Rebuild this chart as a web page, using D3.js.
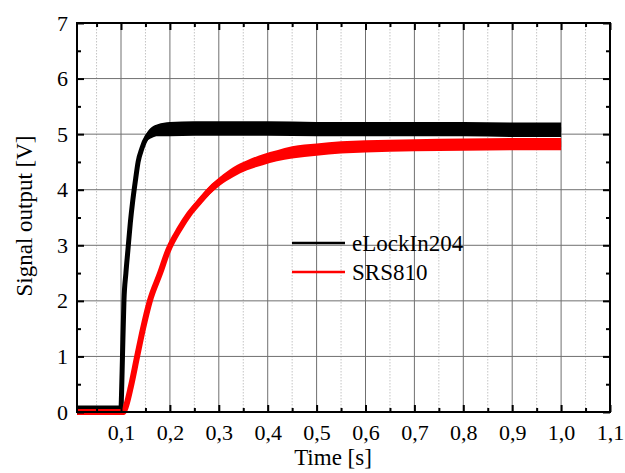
<!DOCTYPE html>
<html>
<head>
<meta charset="utf-8">
<script src="https://cdn.jsdelivr.net/npm/d3@7"></script>
<style>
  body { margin: 0; background: #fff; }
  svg text { font-family: "Liberation Serif", "Times New Roman", serif !important; fill: #000; }
</style>
</head>
<body>
<div id="chart-area"></div>
<script>
// values
let xTicks = [0.1, 0.2, 0.3, 0.4, 0.5, 0.6, 0.7, 0.8, 0.9, 1.0, 1.1];
let xMinor = [0.05, 0.15, 0.25, 0.35, 0.45, 0.55, 0.65, 0.75, 0.85, 0.95, 1.05];
let yTicks = [0, 1, 2, 3, 4, 5, 6, 7];
let yMinor = [0.5, 1.5, 2.5, 3.5, 4.5, 5.5, 6.5];

let seriesNames = ["eLockIn204", "SRS810"];

// eLockIn204 (black)
let timeBlack  = [0.01, 0.1, 0.101, 0.103, 0.106, 0.11, 0.114, 0.119, 0.124, 0.13, 0.135, 0.143, 0.153, 0.163, 0.175, 0.2, 0.25, 0.3, 0.4, 0.5, 0.6, 0.7, 0.8, 0.9, 1.0];
let valueBlack = [0.07, 0.07, 0.3, 1.0, 2.0, 2.5, 2.9, 3.4, 3.8, 4.2, 4.5, 4.75, 4.95, 5.03, 5.07, 5.09, 5.1, 5.1, 5.1, 5.09, 5.09, 5.09, 5.09, 5.08, 5.08];
let noiseBlack = [0.04, 0.04, 0.03, 0.03, 0.03, 0.03, 0.03, 0.04, 0.04, 0.05, 0.06, 0.07, 0.08, 0.1, 0.11, 0.13, 0.13, 0.13, 0.13, 0.13, 0.13, 0.13, 0.13, 0.13, 0.13];

// SRS810 (red)
let timeRed  = [0.01, 0.105, 0.11, 0.12, 0.133, 0.145, 0.159, 0.18, 0.196, 0.22, 0.24, 0.262, 0.28, 0.302, 0.33, 0.358, 0.39, 0.419, 0.45, 0.5, 0.55, 0.6, 0.7, 0.8, 0.9, 1.0];
let valueRed = [0.0, 0.0, 0.1, 0.45, 1.0, 1.5, 2.0, 2.5, 2.9, 3.3, 3.57, 3.8, 3.98, 4.15, 4.32, 4.44, 4.54, 4.61, 4.67, 4.72, 4.76, 4.78, 4.8, 4.81, 4.82, 4.82];
let noiseRed = [0.02, 0.02, 0.03, 0.03, 0.04, 0.04, 0.05, 0.05, 0.06, 0.06, 0.07, 0.07, 0.08, 0.08, 0.09, 0.09, 0.1, 0.1, 0.11, 0.11, 0.11, 0.11, 0.11, 0.11, 0.11, 0.11];

let margin = {top: 23, right: 15, bottom: 61, left: 77};
let width = 625 - margin.left - margin.right;
let height = 473 - margin.top - margin.bottom;

let svg = d3.select("#chart-area").append("svg")
    .attr("width", 625)
    .attr("height", 473)
  .append("g")
    .attr("transform", "translate(" + margin.left + "," + margin.top + ")");

let xScale = d3.scaleLinear().domain([0.01, 1.1]).range([0, width]);
let yScale = d3.scaleLinear().domain([0, 7]).range([height, 0]);

let commaFormat = d => d3.format(".1f")(d).replace(".", ",");

// minor dotted grid
svg.selectAll(".minor-grid")
  .data(xMinor)
  .enter().append("line")
    .attr("class", "minor-grid")
    .attr("x1", d => xScale(d)).attr("x2", d => xScale(d))
    .attr("y1", 0).attr("y2", height)
    .attr("stroke", "#c4c4c4")
    .attr("stroke-width", 1)
    .attr("stroke-dasharray", "1.5,1.5");

// major grid
svg.selectAll(".vgrid")
  .data(xTicks.filter(d => d < 1.1))
  .enter().append("line")
    .attr("class", "vgrid")
    .attr("x1", d => xScale(d)).attr("x2", d => xScale(d))
    .attr("y1", 0).attr("y2", height)
    .attr("stroke", "#707070")
    .attr("stroke-width", 1);

svg.selectAll(".hgrid")
  .data(yTicks.filter(d => d > 0 && d < 7))
  .enter().append("line")
    .attr("class", "hgrid")
    .attr("x1", 0).attr("x2", width)
    .attr("y1", d => yScale(d)).attr("y2", d => yScale(d))
    .attr("stroke", "#707070")
    .attr("stroke-width", 1);

// series: noise band + centre line
function drawSeries(times, values, noise, color, lw) {
  let pts = times.map((t, i) => ({t: t, v: values[i], n: noise[i]}));
  let band = d3.area()
    .x(d => xScale(d.t))
    .y0(d => yScale(d.v - d.n))
    .y1(d => yScale(d.v + d.n))
    .curve(d3.curveMonotoneX);
  let line = d3.line()
    .x(d => xScale(d.t))
    .y(d => yScale(d.v))
    .curve(d3.curveMonotoneX);
  svg.append("path")
    .attr("d", band(pts))
    .attr("fill", color);
  svg.append("path")
    .attr("d", line(pts))
    .attr("fill", "none")
    .attr("stroke", color)
    .attr("stroke-width", lw)
    .attr("stroke-linejoin", "round");
}

drawSeries(timeBlack, valueBlack, noiseBlack, "#000000", 5);
drawSeries(timeRed, valueRed, noiseRed, "#ff0000", 6);

// axes with inward ticks
let xAxis = d3.axisBottom(xScale).tickValues(xTicks).tickSizeInner(-7).tickSizeOuter(0).tickPadding(12).tickFormat(commaFormat);
let xAxisMinor = d3.axisBottom(xScale).tickValues(xMinor).tickSizeInner(-4).tickSizeOuter(0).tickFormat("");
let xTop = d3.axisTop(xScale).tickValues(xTicks).tickSizeInner(-7).tickSizeOuter(0).tickFormat("");
let xTopMinor = d3.axisTop(xScale).tickValues(xMinor).tickSizeInner(-4).tickSizeOuter(0).tickFormat("");
let yAxis = d3.axisLeft(yScale).tickValues(yTicks).tickSizeInner(-7).tickSizeOuter(0).tickPadding(9).tickFormat(d3.format("d"));
let yAxisMinor = d3.axisLeft(yScale).tickValues(yMinor).tickSizeInner(-4).tickSizeOuter(0).tickFormat("");
let yRight = d3.axisRight(yScale).tickValues(yTicks).tickSizeInner(-7).tickSizeOuter(0).tickFormat("");
let yRightMinor = d3.axisRight(yScale).tickValues(yMinor).tickSizeInner(-4).tickSizeOuter(0).tickFormat("");

function addAxis(axis, tx, ty) {
  let g = svg.append("g")
    .attr("transform", `translate(${tx},${ty})`)
    .call(axis)
    .attr("font-family", "Liberation Serif, serif");
  g.select(".domain").remove();
  g.selectAll("line").attr("stroke", "#000").attr("stroke-width", 2);
  g.selectAll("text")
    .style("font-family", "'Liberation Serif', serif")
    .style("font-size", "22px")
    .attr("fill", "#000");
  return g;
}

addAxis(xAxis, 0, height);
addAxis(xAxisMinor, 0, height);
addAxis(xTop, 0, 0);
addAxis(xTopMinor, 0, 0);
addAxis(yAxis, 0, 0);
addAxis(yAxisMinor, 0, 0);
addAxis(yRight, width, 0);
addAxis(yRightMinor, width, 0);

// frame
svg.append("rect")
  .attr("x", 0).attr("y", 0)
  .attr("width", width).attr("height", height)
  .attr("fill", "none")
  .attr("stroke", "#000")
  .attr("stroke-width", 2);

// axis titles
svg.append("text")
  .attr("x", 256)
  .attr("y", height + 53)
  .attr("text-anchor", "middle")
  .attr("font-size", 23)
  .text("Time [s]");

svg.append("text")
  .attr("transform", `translate(${-45},${193}) rotate(-90)`)
  .attr("text-anchor", "middle")
  .attr("font-size", 23)
  .text("Signal output [V]");

// legend
let legendColors = ["#000000", "#ff0000"];
let legend = svg.selectAll(".legend")
  .data(seriesNames)
  .enter().append("g")
    .attr("class", "legend")
    .attr("transform", (d, i) => `translate(215,${220 + i * 29})`);

legend.append("line")
  .attr("x1", 0).attr("x2", 53)
  .attr("y1", 0).attr("y2", 0)
  .attr("stroke", (d, i) => legendColors[i])
  .attr("stroke-width", 2.5);

legend.append("text")
  .attr("x", 60)
  .attr("y", 8)
  .attr("font-size", 23)
  .text(d => d);
</script>
</body>
</html>
